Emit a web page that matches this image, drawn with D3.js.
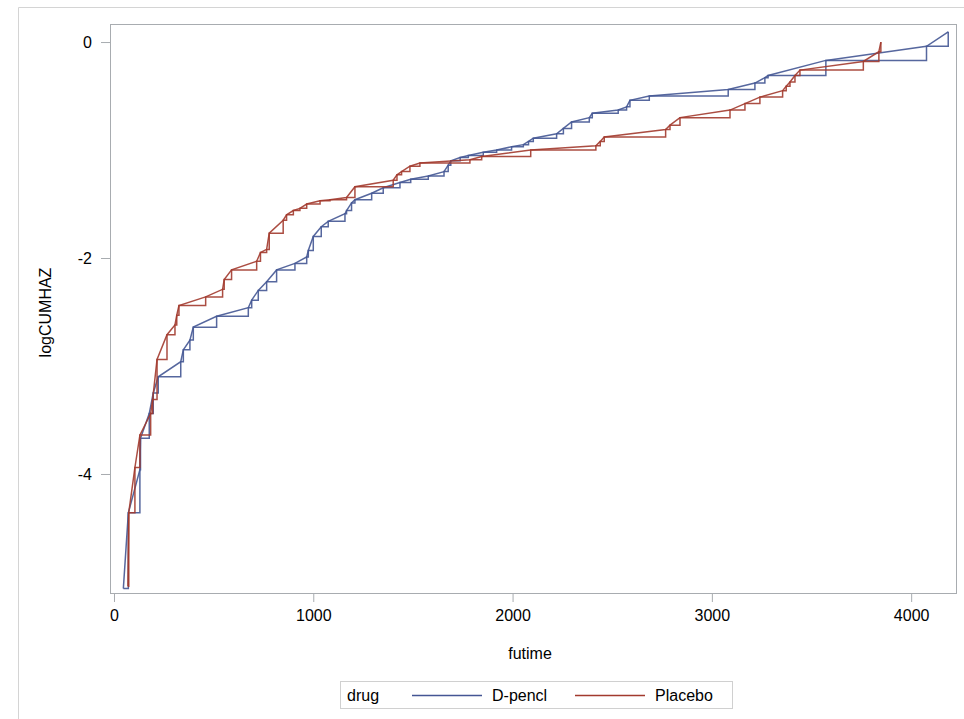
<!DOCTYPE html>
<html>
<head>
<meta charset="utf-8">
<script src="https://cdn.jsdelivr.net/npm/d3@7"></script>
<style>
  body { margin: 0; background: #fff; }
  svg text { font-family: "Liberation Sans", Arial, sans-serif; fill: #000; }
</style>
</head>
<body>
<svg id="chart" width="964" height="719"></svg>
<script>
// event times / log cumulative hazard
const dpenclTime = [47, 72, 130, 133, 177, 197, 222, 335, 348, 381, 398, 515, 674, 691, 724, 766, 816, 908, 967, 975, 1000, 1040, 1075, 1159, 1167, 1192, 1209, 1293, 1351, 1435, 1489, 1577, 1656, 1677, 1690, 1737, 1778, 1853, 1920, 1995, 2054, 2080, 2104, 2221, 2255, 2296, 2385, 2400, 2530, 2572, 2589, 2686, 3082, 3216, 3266, 3282, 3572, 4077, 4186];
const dpenclLogH = [-5.06, -4.36, -3.96, -3.67, -3.44, -3.25, -3.10, -2.96, -2.85, -2.76, -2.64, -2.54, -2.46, -2.39, -2.30, -2.22, -2.11, -2.05, -1.99, -1.93, -1.80, -1.71, -1.66, -1.59, -1.56, -1.49, -1.46, -1.40, -1.35, -1.30, -1.27, -1.24, -1.20, -1.14, -1.10, -1.07, -1.05, -1.02, -1.00, -0.97, -0.95, -0.92, -0.89, -0.85, -0.80, -0.74, -0.70, -0.66, -0.63, -0.60, -0.54, -0.50, -0.44, -0.38, -0.33, -0.31, -0.17, -0.04, 0.095];

const placeboTime = [70, 74, 105, 130, 184, 194, 216, 266, 306, 315, 326, 460, 545, 553, 590, 716, 735, 766, 779, 849, 866, 900, 933, 967, 1034, 1084, 1167, 1209, 1401, 1420, 1443, 1485, 1535, 1786, 1845, 2091, 2418, 2440, 2460, 2768, 2790, 2840, 3091, 3166, 3241, 3355, 3373, 3392, 3417, 3442, 3760, 3838, 3848];
const placeboLogH = [-5.04, -4.36, -3.94, -3.64, -3.44, -3.31, -2.94, -2.71, -2.62, -2.53, -2.44, -2.36, -2.29, -2.20, -2.11, -2.03, -1.95, -1.92, -1.77, -1.65, -1.60, -1.56, -1.54, -1.50, -1.47, -1.46, -1.44, -1.34, -1.28, -1.23, -1.20, -1.15, -1.12, -1.09, -1.06, -1.00, -0.96, -0.92, -0.88, -0.81, -0.77, -0.70, -0.63, -0.57, -0.51, -0.45, -0.41, -0.37, -0.31, -0.26, -0.18, -0.09, 0.0];

const xTicks = [0, 1000, 2000, 3000, 4000];
const yTicks = [-4, -2, 0];
const groupNames = ["D-pencl", "Placebo"];
const groupColors = ["#445694", "#A23A2E"];

const svg = d3.select("#chart");

// outer frame of the graph
svg.append("path")
  .attr("d", "M18.5,720 V7.5 H965")
  .attr("fill", "none")
  .attr("stroke", "#d4d4d4");

const plot = { left: 110, top: 24, right: 956, bottom: 593 };

const x = d3.scaleLinear().domain([-20, 4225]).range([plot.left, plot.right]);
const y = d3.scaleLinear().domain([-5.102, 0.167]).range([plot.bottom, plot.top]);

// axes
const xAxis = svg.append("g")
  .attr("transform", `translate(0,${plot.bottom})`)
  .call(d3.axisBottom(x).tickValues(xTicks).tickSize(9).tickPadding(8).tickFormat(d3.format("d")));
const yAxis = svg.append("g")
  .attr("transform", `translate(${plot.left},0)`)
  .call(d3.axisLeft(y).tickValues(yTicks).tickSize(9).tickPadding(9).tickFormat(d => d));

[xAxis, yAxis].forEach(g => {
  g.select(".domain").remove();
  g.selectAll("line").attr("stroke", "#a8acb0");
  g.selectAll("text").style("font-size", "16px").attr("fill", "#000");
});

// plot wall border
svg.append("rect")
  .attr("x", plot.left + 0.5).attr("y", plot.top + 0.5)
  .attr("width", plot.right - plot.left).attr("height", plot.bottom - plot.top)
  .attr("fill", "none").attr("stroke", "#a8acb0");

// axis labels
svg.append("text")
  .attr("x", (plot.left + plot.right) / 2 - 3).attr("y", 659)
  .attr("text-anchor", "middle").style("font-size", "16px")
  .text("futime");
svg.append("text")
  .attr("transform", `translate(51,${(plot.top + plot.bottom) / 2 + 4}) rotate(-90)`)
  .attr("text-anchor", "middle").style("font-size", "16px")
  .text("logCUMHAZ");

// curves: step function plus a straight series through the same points
const series = [
  d3.zip(dpenclTime, dpenclLogH),
  d3.zip(placeboTime, placeboLogH)
];
const stepLine = d3.line().x(d => x(d[0])).y(d => y(d[1])).curve(d3.curveStepAfter);
const straightLine = d3.line().x(d => x(d[0])).y(d => y(d[1]));

series.forEach((pts, i) => {
  [stepLine, straightLine].forEach(gen => {
    svg.append("path")
      .datum(pts)
      .attr("d", gen)
      .attr("fill", "none")
      .attr("stroke", groupColors[i])
      .attr("stroke-width", 1.5)
      .attr("stroke-opacity", 0.9)
      .attr("stroke-linejoin", "miter");
  });
});

// legend
const legend = svg.append("g");
legend.append("rect")
  .attr("x", 340.5).attr("y", 681.5).attr("width", 392).attr("height", 27)
  .attr("fill", "#fff").attr("stroke", "#d0d0d0");
legend.append("text").attr("x", 347).attr("y", 701).style("font-size", "16px").text("drug");
const legendX = [412, 575];
groupNames.forEach((name, i) => {
  legend.append("line")
    .attr("x1", legendX[i]).attr("x2", legendX[i] + 70)
    .attr("y1", 695.5).attr("y2", 695.5)
    .attr("stroke", groupColors[i]).attr("stroke-width", 1.5);
  legend.append("text")
    .attr("x", legendX[i] + 80).attr("y", 701)
    .style("font-size", "16px").text(name);
});
</script>
</body>
</html>
